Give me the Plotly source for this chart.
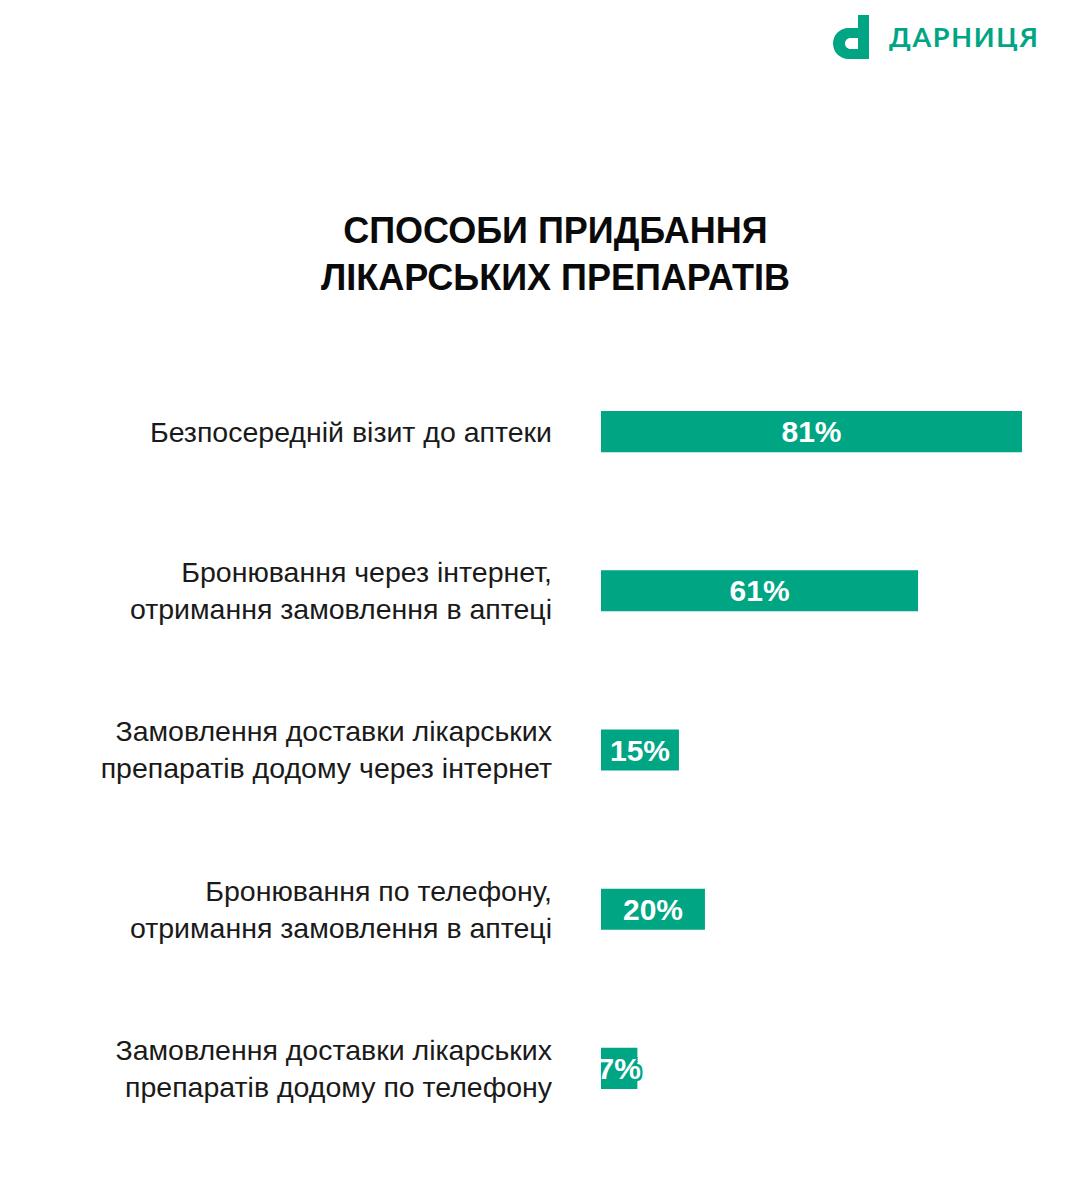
import plotly.graph_objects as go

# Data
categories = [
    "Безпосередній візит до аптеки",
    "Бронювання через інтернет,<br>отримання замовлення в аптеці",
    "Замовлення доставки лікарських<br>препаратів додому через інтернет",
    "Бронювання по телефону,<br>отримання замовлення в аптеці",
    "Замовлення доставки лікарських<br>препаратів додому по телефону",
]
shares = [81, 61, 15, 20, 7]
bar_labels = ["81%", "61%", "15%", "20%", "7%"]

title_text = "СПОСОБИ ПРИДБАННЯ<br>ЛІКАРСЬКИХ ПРЕПАРАТІВ"
brand_text = "ДАРНИЦЯ"

GREEN = "#00A584"
OFF = 8  # page body margin
W, H = 1074 - 2 * OFF, 1204 - 2 * OFF
ML, MR, MT, MB = 593, 44, 344, 48
PW, PH = W - ML - MR, H - MT - MB


def to_paper(px, py):
    # screen pixel -> paper coordinates
    return (px - OFF - ML) / PW, (H - MB - (py - OFF)) / PH


def path_from(points_cmds):
    out = []
    for cmd, pts in points_cmds:
        coords = " ".join("%.5f,%.5f" % to_paper(*p) for p in pts)
        out.append(cmd + " " + coords if pts else cmd)
    return " ".join(out)


# logo glyph "d"
k = 0.5523
r1, cx1 = 15.5, 848.5
r2, cx2 = 5.5, 850.5
glyph = path_from([
    ("M", [(858, 15)]),
    ("L", [(869, 15)]),
    ("L", [(869, 59)]),
    ("L", [(cx1, 59)]),
    ("C", [(cx1 - r1 * k, 59), (cx1 - r1, 43.5 + r1 * k), (cx1 - r1, 43.5)]),
    ("C", [(cx1 - r1, 43.5 - r1 * k), (cx1 - r1 * k, 28), (cx1, 28)]),
    ("L", [(858, 28)]),
    ("Z", []),
    ("M", [(858, 38)]),
    ("L", [(cx2, 38)]),
    ("C", [(cx2 - r2 * k, 38), (cx2 - r2, 43.5 - r2 * k), (cx2 - r2, 43.5)]),
    ("C", [(cx2 - r2, 43.5 + r2 * k), (cx2 - r2 * k, 49), (cx2, 49)]),
    ("L", [(858, 49)]),
    ("Z", []),
])

# green halo keeps white text readable where it runs past a short bar
halo = ", ".join("%dpx %dpx 0 %s" % (a, b, GREEN)
                 for a, b in [(2, 0), (-2, 0), (0, 2), (0, -2), (2, 2), (-2, -2), (2, -2), (-2, 2)])

fig = go.Figure(go.Bar(
    x=shares,
    y=categories,
    orientation="h",
    text=bar_labels,
    textposition="inside",
    insidetextanchor="middle",
    textangle=0,
    constraintext="none",
    textfont=dict(family="Liberation Sans", size=30, color="white", weight="bold", shadow=halo),
    marker=dict(color=GREEN, line=dict(width=0)),
    hovertemplate="%{y}: %{x}%<extra></extra>",
))

tx, ty = to_paper(555, 254)
bx, by = to_paper(887, 37)

fig.update_layout(
    width=W,
    height=H,
    margin=dict(l=ML, r=MR, t=MT, b=MB, autoexpand=False),
    plot_bgcolor="white",
    paper_bgcolor="white",
    bargap=0.742,
    showlegend=False,
    xaxis=dict(range=[0, 81], visible=False, fixedrange=True),
    yaxis=dict(
        range=[4.5, -0.5],
        showgrid=False,
        showline=False,
        ticks="",
        ticklabelstandoff=48,
        tickfont=dict(family="Liberation Sans", size=28.5, color="#1a1a1a"),
        fixedrange=True,
    ),
    shapes=[dict(type="path", xref="paper", yref="paper", path=glyph,
                 fillcolor=GREEN, line=dict(width=0), layer="above")],
    annotations=[
        dict(text=title_text, xref="paper", yref="paper", x=tx, y=ty,
             xanchor="center", yanchor="middle", showarrow=False, align="center",
             font=dict(family="Liberation Sans", size=36, color="#0a0a0a", weight="bold")),
        dict(text="\u200a".join(brand_text), xref="paper", yref="paper", x=bx, y=by,
             xanchor="left", yanchor="middle", showarrow=False,
             font=dict(family="Lato", size=27, color=GREEN, weight="bold")),
    ],
)

fig.write_html("out.html")
